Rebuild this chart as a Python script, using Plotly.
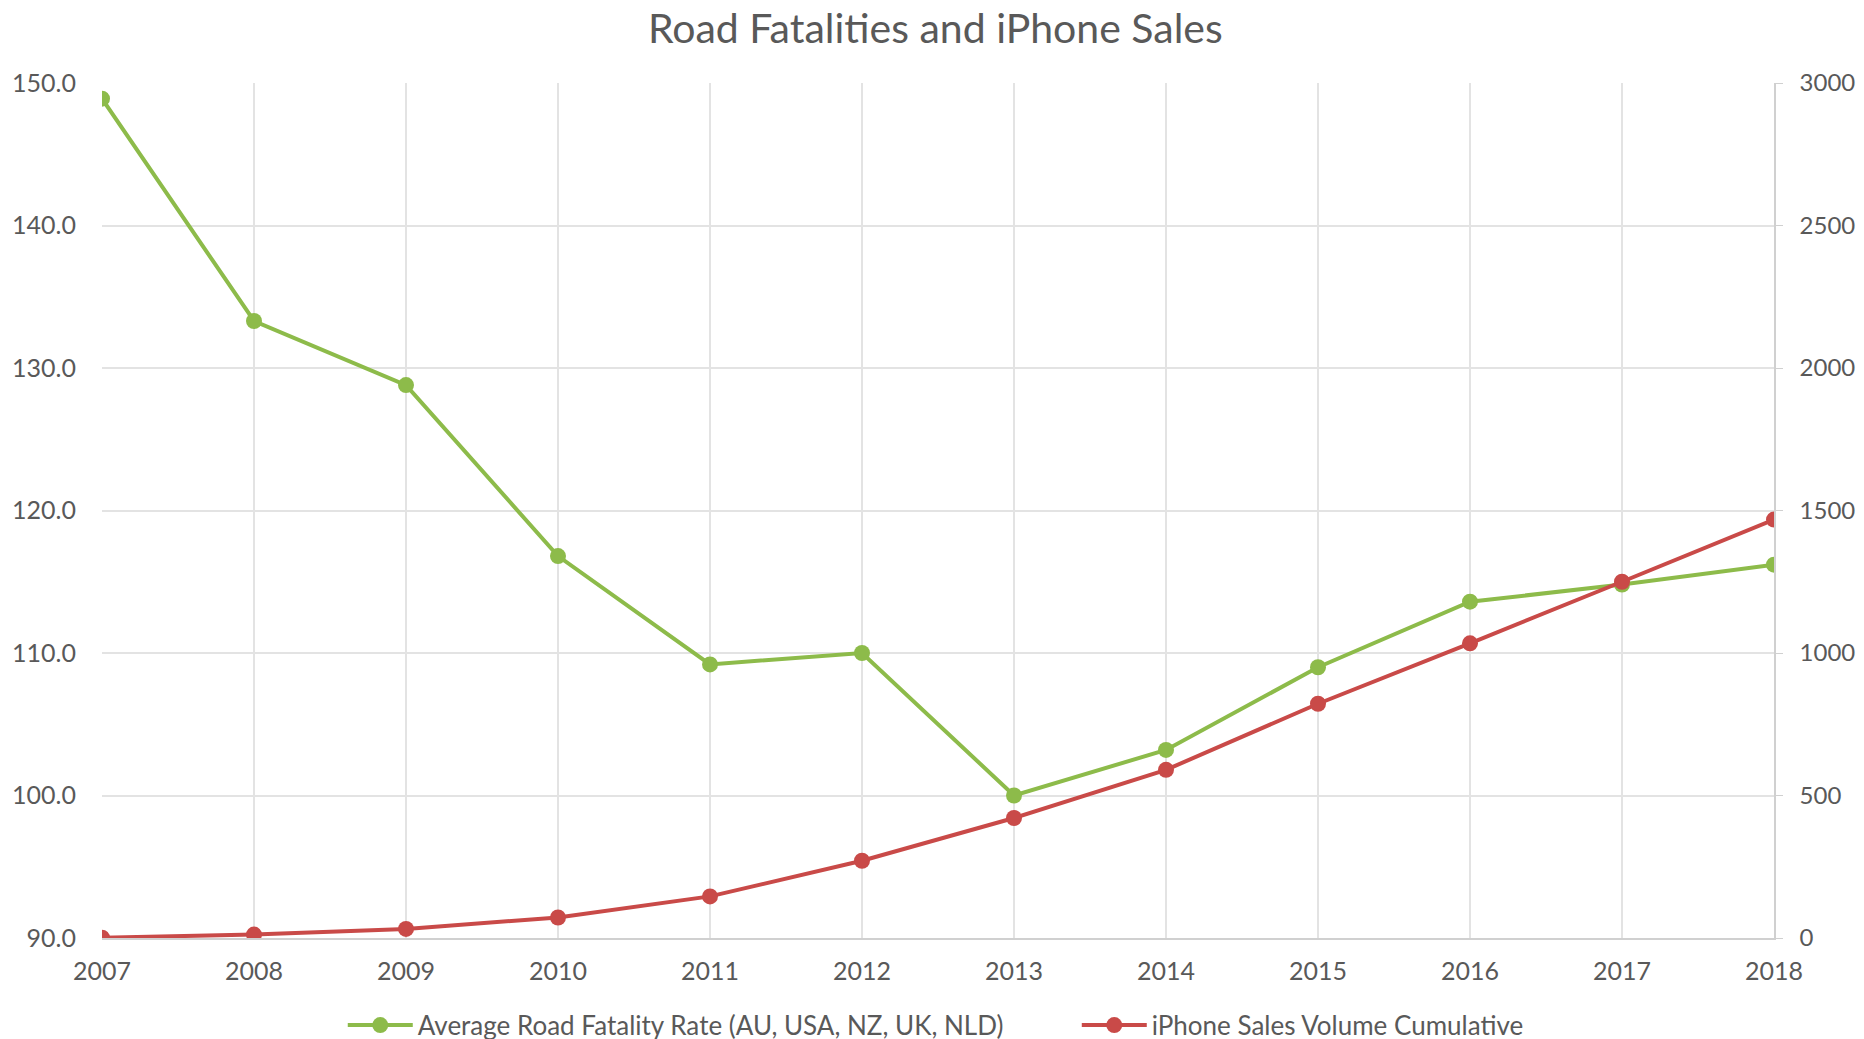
import plotly.graph_objects as go

years = [2007, 2008, 2009, 2010, 2011, 2012, 2013, 2014, 2015, 2016, 2017, 2018]
fatality_rate = [148.9, 133.3, 128.8, 116.8, 109.2, 110.0, 100.0, 103.2, 109.0, 113.6, 114.8, 116.2]
iphone_cumulative = [1, 12, 32, 72, 146, 271, 421, 590, 822, 1034, 1250, 1468]

title_text = "Road Fatalities and iPhone Sales"
name_green = "Average Road Fatality Rate (AU, USA, NZ, UK, NLD)"
name_red = "iPhone Sales Volume Cumulative"

GREEN = "#8DBB4A"
RED = "#C94A48"
TXT = "#595959"
GRID = "#E3E3E3"
AXLINE = "#D0D0D0"
FONT = "Lato, 'Open Sans', sans-serif"

fig = go.Figure()
fig.add_trace(go.Scatter(
    x=years, y=fatality_rate, name=name_green, mode="lines+markers",
    line=dict(color=GREEN, width=4), marker=dict(color=GREEN, size=16),
    yaxis="y", legend="legend"))
fig.add_trace(go.Scatter(
    x=years, y=iphone_cumulative, name=name_red, mode="lines+markers",
    line=dict(color=RED, width=4), marker=dict(color=RED, size=16),
    yaxis="y2", legend="legend2"))

legend_common = dict(orientation="h", xanchor="left", yref="container", y=0.021,
                     yanchor="middle", font=dict(size=26, color=TXT), itemwidth=65,
                     bgcolor="rgba(0,0,0,0)")

fig.update_layout(
    width=1864, height=1039,
    margin=dict(l=94, r=98, t=75, b=109),
    paper_bgcolor="white", plot_bgcolor="white",
    font=dict(family=FONT, color=TXT, size=25),
    title=dict(text=title_text, x=0.4975, xanchor="center", y=0.98, yanchor="middle",
               font=dict(size=41, color=TXT, family=FONT)),
    xaxis=dict(range=[2007, 2018], tickvals=years, ticktext=[str(y) for y in years],
               showgrid=True, gridcolor=GRID, gridwidth=1.5,
               showline=True, linecolor=AXLINE, linewidth=1.5,
               ticks="", zeroline=False, ticklabelstandoff=10, automargin=False,
               tickfont=dict(size=25, color=TXT)),
    yaxis=dict(range=[90, 150], dtick=10, tickformat=".1f",
               showgrid=True, gridcolor=GRID, gridwidth=1.5,
               showline=False, ticks="", zeroline=False, ticklabelstandoff=25,
               automargin=False, tickfont=dict(size=25, color=TXT)),
    yaxis2=dict(range=[0, 3000], dtick=500, overlaying="y", side="right",
                showgrid=False, showline=True, linecolor=AXLINE, linewidth=1.5,
                ticks="outside", ticklen=7, tickcolor=AXLINE, zeroline=False,
                ticklabelstandoff=12, automargin=False,
                tickfont=dict(size=24, color=TXT)),
    legend=dict(x=0.144, **legend_common),
    legend2=dict(x=0.583, **legend_common),
    showlegend=True,
)

fig.write_html("out.html")
